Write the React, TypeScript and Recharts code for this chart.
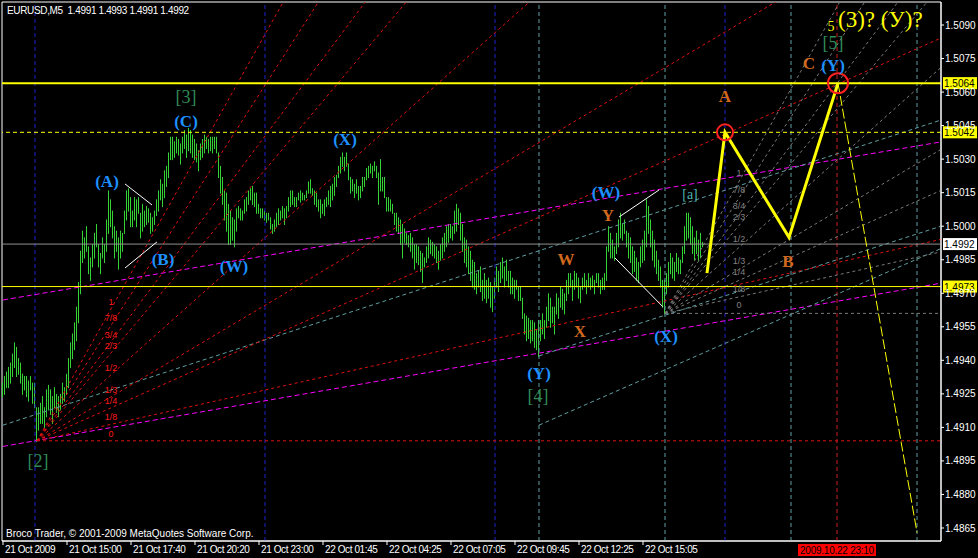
import React from 'react'
import {
  ComposedChart, Bar, Line, Scatter, XAxis, YAxis,
  ReferenceLine, ReferenceDot, ReferenceArea,
} from 'recharts'

// EURUSD M5 bars, quotes kept as their last four digits (4930 -> 1.4930)
const HIGH_PIPS = [
  4930, 4933, 4935, 4937, 4939, 4943, 4948, 4946, 4941, 4939, 4934, 4933, 4933, 4931, 4933, 4930, 4930, 4919,
  4919, 4921, 4924, 4919, 4927, 4929, 4927, 4924, 4928, 4925, 4924, 4925, 4930, 4928,
  4934, 4941, 4948, 4952, 4957, 4964, 4975, 4989,
  4998, 4995, 5000, 4991, 4986, 4992, 4997, 5001, 4992, 4988, 4995, 4992, 5003, 5016,
  5012, 5007, 5000, 4998, 4995, 4998, 4997, 5007, 5016,
  5017, 5013, 5007, 5013, 5012, 5013, 5006, 5010, 5007, 5009, 5008, 5006, 5004, 5007, 5012,
  5016, 5021, 5019, 5025, 5027, 5033, 5040,
  5040, 5038, 5040, 5039, 5037, 5040, 5043, 5041, 5044, 5043, 5041, 5039, 5037, 5034, 5037, 5039, 5041, 5040, 5039, 5040, 5040, 5040, 5040, 5033,
  5027, 5022, 5016, 5015, 5010, 5007, 5004, 5003, 5008,
  5009, 5008, 5007, 5012, 5013, 5016, 5017, 5018, 5015, 5015, 5010,
  5008, 5008, 5007, 5006, 5006, 5004, 5001, 5003, 5006, 5008, 5007, 5009,
  5008, 5009, 5013, 5016, 5016, 5013, 5013, 5015, 5016, 5015, 5014, 5016, 5020, 5021, 5017,
  5016, 5015, 5012, 5012, 5010, 5012, 5013, 5016, 5018, 5019, 5022, 5023, 5027,
  5031, 5033, 5031, 5033, 5028, 5022, 5021, 5019, 5021, 5018, 5018,
  5022, 5022, 5026, 5027, 5028, 5027, 5029, 5027, 5024, 5030,
  5022, 5022, 5013, 5013, 5012, 5010, 5006, 5006,
  5004, 5003, 5001, 4999, 4997, 4996, 4997, 4995, 4992, 4992,
  4991, 4989, 4988, 4986, 4991, 4995, 4994,
  4993, 4992, 4991, 4989, 4992, 4995, 4997, 5000, 5001, 5001, 5000, 5007, 5010, 5008, 5006, 5001, 4995, 4994,
  4991, 4989, 4985, 4984, 4979, 4980, 4982, 4976, 4979, 4976, 4977, 4975, 4973,
  4977, 4982, 4980, 4984, 4986, 4982, 4985, 4980, 4980, 4977, 4976, 4976, 4973, 4973, 4968,
  4961, 4960, 4959, 4958, 4958, 4957, 4954, 4958, 4958, 4961, 4958,
  4964, 4970, 4968, 4964, 4964, 4970, 4968, 4973, 4972, 4970, 4976, 4979,
  4979, 4976, 4980, 4979, 4977, 4973, 4977, 4979, 4976, 4979, 4977, 4978, 4976, 4979, 4979, 4976, 4977, 4979, 4991,
  5000, 4997, 4994, 4991, 4997, 5003, 5006, 5001, 5003, 4998, 4997, 4995, 4991,
  4989, 4986, 4984, 4991, 4994, 4998, 5012, 5009, 5003, 4998,
  4994, 4989, 4985, 4982, 4976, 4976, 4979,
  4984, 4988, 4986, 4984, 4988, 4986, 4985, 4991, 5000, 5006,
  5006, 5004, 5000, 4995, 4998, 4994, 4997, 4993,
]
const LOW_PIPS = [
  4924, 4925, 4928, 4928, 4930, 4933, 4937, 4933, 4934, 4930, 4925, 4927, 4924, 4922, 4927, 4921, 4919, 4904,
  4909, 4912, 4912, 4910, 4915, 4918, 4916, 4912, 4919, 4917, 4915, 4918, 4921, 4922,
  4925, 4928, 4937, 4941, 4945, 4949, 4957, 4970,
  4984, 4986, 4989, 4979, 4976, 4982, 4986, 4991, 4982, 4979, 4986, 4984, 4989, 4997,
  5000, 4995, 4986, 4989, 4981, 4986, 4989, 4997, 5003,
  5007, 5000, 5000, 5003, 5000, 5006, 4995, 4998, 5000, 5001, 5002, 4997, 4998, 5001, 5005,
  5007, 5012, 5009, 5013, 5018, 5022, 5030,
  5030, 5031, 5033, 5032, 5028, 5033, 5035, 5031, 5034, 5033, 5031, 5030, 5029, 5025, 5030, 5031, 5033, 5035, 5033, 5034, 5033, 5035, 5033, 5022,
  5015, 5010, 5003, 4998, 4992, 4992, 4994, 4991, 4998,
  5004, 5003, 5003, 5006, 5007, 5010, 5012, 5010, 5009, 5006, 5006,
  5004, 5004, 5003, 5002, 5003, 4999, 4997, 4998, 5000, 5001, 5003, 5004,
  5001, 5004, 5007, 5009, 5010, 5009, 5009, 5012, 5011, 5012, 5012, 5013, 5015, 5015, 5014,
  5010, 5009, 5007, 5004, 5006, 5005, 5009, 5010, 5009, 5012, 5014, 5018, 5022,
  5024, 5027, 5025, 5027, 5021, 5015, 5016, 5013, 5015, 5012, 5013,
  5016, 5018, 5021, 5022, 5024, 5022, 5025, 5022, 5010, 5016,
  5016, 5013, 5007, 5007, 5007, 5006, 5001, 4998,
  4997, 4992, 4986, 4993, 4992, 4991, 4989, 4986, 4981, 4984,
  4983, 4980, 4975, 4982, 4984, 4986, 4988,
  4987, 4986, 4984, 4981, 4985, 4986, 4989, 4991, 4993, 4995, 4994, 4997, 4998, 5001, 4994, 4989, 4984, 4982,
  4979, 4976, 4973, 4972, 4970, 4973, 4971, 4967, 4968, 4966, 4968, 4964, 4962,
  4968, 4973, 4971, 4975, 4977, 4973, 4976, 4973, 4970, 4970, 4968, 4972, 4967, 4967, 4959,
  4952, 4949, 4950, 4948, 4949, 4946, 4945, 4942, 4949, 4952, 4950,
  4955, 4958, 4955, 4957, 4952, 4961, 4959, 4964, 4963, 4961, 4967, 4970,
  4973, 4967, 4972, 4973, 4968, 4966, 4972, 4973, 4970, 4973, 4972, 4973, 4970, 4975, 4973, 4970, 4972, 4972, 4976,
  4989, 4986, 4986, 4985, 4988, 4991, 4995, 4994, 4997, 4991, 4986, 4984, 4979,
  4980, 4976, 4975, 4982, 4984, 4985, 4991, 4997, 4991, 4985,
  4982, 4979, 4976, 4973, 4964, 4961, 4970,
  4973, 4979, 4977, 4976, 4980, 4979, 4979, 4984, 4988, 4994,
  4995, 4992, 4988, 4985, 4988, 4985, 4986, 4991,
]

const PRICE_TICKS = [
  1.4865, 1.488, 1.4895, 1.491, 1.4925, 1.494, 1.4955, 1.497,
  1.4985, 1.5, 1.5015, 1.503, 1.5045, 1.506, 1.5075, 1.509,
]
const TIME_TICKS = [0, 32, 64, 96, 128, 160, 192, 224, 256, 288, 320]
const TIME_LABELS = [
  '21 Oct 2009', '21 Oct 15:00', '21 Oct 17:40', '21 Oct 20:20', '21 Oct 23:00',
  '22 Oct 01:45', '22 Oct 04:25', '22 Oct 07:05', '22 Oct 09:45', '22 Oct 12:25', '22 Oct 15:05',
]

// fans: origin pivot and the point that fixes the "1" ray
const FAN_RATIOS = [0, 1 / 8, 1 / 4, 1 / 3, 1 / 2, 2 / 3, 3 / 4, 7 / 8, 1]
const FAN_NAMES = ['0', '1/8', '1/4', '1/3', '1/2', '2/3', '3/4', '7/8', '1']
const RED_FAN = { from: { t: 17, p: 1.4904 }, to: { t: 54, p: 1.4963 } }
const GRAY_FAN = { from: { t: 331, p: 1.4961 }, to: { t: 368, p: 1.502 } }

const TEAL_LINES = [
  [{ t: 0, p: 1.4911 }, { t: 469, p: 1.50475 }],
  [{ t: 268, p: 1.4911 }, { t: 469, p: 1.499 }],
  [{ t: 268, p: 1.4942 }, { t: 469, p: 1.5 }],
]
const MAGENTA_LINES = [
  [{ t: 0, p: 1.4967 }, { t: 469, p: 1.50377 }],
  [{ t: 0, p: 1.49015 }, { t: 469, p: 1.49745 }],
]
const WHITE_LINES = [
  [{ t: 61, p: 1.50189 }, { t: 74.5, p: 1.50095 }],
  [{ t: 61, p: 1.49813 }, { t: 77, p: 1.4993 }],
  [{ t: 308, p: 1.50041 }, { t: 328, p: 1.50162 }],
  [{ t: 306, p: 1.49858 }, { t: 330, p: 1.49639 }],
]

// projected A-B-C path and the drop after C
const PROJECTION = [
  { t: 352, p: 1.4979 }, { t: 361, p: 1.5042 }, { t: 393, p: 1.4995 }, { t: 417.5, p: 1.5064 },
]
const PROJECTION_DROP = [{ t: 417.5, p: 1.5064 }, { t: 457, p: 1.4863 }]
const TARGETS = [{ t: 361, p: 1.5042 }, { t: 417.5, p: 1.5064 }]

const BLUE_T = [16, 131, 246, 361]
const TEAL_T = [268, 331, 394, 457]
const RED_T = 417
const RED_T_LABEL = '2009.10.22 23:10'

const BLUE_WAVES = [
  { t: 52, p: 1.502, text: '(A)' },
  { t: 80, p: 1.4985, text: '(B)' },
  { t: 91.5, p: 1.5047, text: '(C)' },
  { t: 115.5, p: 1.4982, text: '(W)' },
  { t: 171, p: 1.5039, text: '(X)' },
  { t: 268, p: 1.4934, text: '(Y)' },
  { t: 301.5, p: 1.5015, text: '(W)' },
  { t: 331.5, p: 1.49505, text: '(X)' },
  { t: 415, p: 1.5072, text: '(Y)' },
]
const GREEN_WAVES = [
  { t: 17.5, p: 1.4895, text: '[2]' },
  { t: 91.5, p: 1.5058, text: '[3]' },
  { t: 267.5, p: 1.4924, text: '[4]' },
  { t: 415, p: 1.5082, text: '[5]' },
]
const ORANGE_WAVES = [
  { t: 281.5, p: 1.4985, text: 'W' },
  { t: 288.5, p: 1.4953, text: 'X' },
  { t: 302.5, p: 1.5005, text: 'Y' },
  { t: 361, p: 1.5058, text: 'A' },
  { t: 392.5, p: 1.4984, text: 'B' },
  { t: 403, p: 1.50726, text: 'C' },
]
const MINOR_WAVES = [{ t: 343.5, p: 1.5014, text: '[a]' }]
const DEGREE_MARK = [{ t: 414, p: 1.50895, text: '5' }]
const HEADLINE = [{ t: 417.5, p: 1.50925, text: '(3)? (У)?' }]

const W = 978
const H = 558
const T_MIN = -0.5
const T_MAX = 469
const P_MIN = 1.485918
const P_MAX = 1.510029

const SERIF = '"Liberation Serif", "Times New Roman", serif'
const SANS = '"Liberation Sans", Arial, sans-serif'
const GREEN = '#34d234'

const toPrice = (pips: number) => 1 + pips / 10000
const bars = HIGH_PIPS.map((h, i) => ({ t: i, hl: [toPrice(LOW_PIPS[i]), toPrice(h)] }))

function fanRays(fan: typeof RED_FAN) {
  const step = (fan.to.p - fan.from.p) / (fan.to.t - fan.from.t)
  return FAN_RATIOS.map((r) => [
    { x: fan.from.t, y: fan.from.p },
    { x: T_MAX, y: fan.from.p + r * step * (T_MAX - fan.from.t) },
  ])
}

function fanLabels(fan: typeof RED_FAN) {
  return FAN_RATIOS.map((r, i) => ({
    t: fan.to.t,
    p: fan.from.p + r * (fan.to.p - fan.from.p),
    text: FAN_NAMES[i],
  }))
}

function Stick(props: any) {
  const { x, y, width, height } = props
  if (x == null || y == null) return null
  const cx = Math.floor(x + width / 2) + 0.5
  const top = Math.min(y, y + height)
  const bottom = Math.max(y, y + height)
  return <line x1={cx} x2={cx} y1={top} y2={bottom + 1} stroke={GREEN} strokeWidth={1} />
}

const textShape = (style: any, dy = 0, anchor = 'middle') => (props: any) => (
  <text
    x={props.cx}
    y={props.cy + dy}
    textAnchor={anchor}
    dominantBaseline="central"
    {...style}
  >
    {props.payload.text}
  </text>
)

const priceTag = (value: number, bg: string) => (props: any) => {
  const vb = props.viewBox
  if (!vb) return null
  const left = vb.x + vb.width + 2
  return (
    <g>
      <rect x={left} y={vb.y - 6} width={34} height={12} fill={bg} />
      <text x={left + 1} y={vb.y + 4} fontSize={10} fontFamily={SANS} fill="#000">
        {value.toFixed(4)}
      </text>
    </g>
  )
}

const timeTag = (text: string) => (props: any) => {
  const vb = props.viewBox
  if (!vb) return null
  const cx = vb.x
  const top = vb.y + vb.height + 3
  return (
    <g>
      <rect x={cx - 39} y={top} width={78} height={12} fill="#ff0000" />
      <text x={cx} y={top + 10} textAnchor="middle" fontSize={10} fontFamily={SANS}
        letterSpacing={-0.25} fill="#000">
        {text}
      </text>
    </g>
  )
}

function TimeTick(props: any) {
  const { x, y, payload } = props
  const i = TIME_TICKS.indexOf(payload.value)
  return (
    <text x={x + 2} y={y + 8} fontSize={10} fontFamily={SANS} letterSpacing={-0.4} fill="#fff">
      {TIME_LABELS[i]}
    </text>
  )
}

export default function App() {
  const redRays = fanRays(RED_FAN)
  const grayRays = fanRays(GRAY_FAN)
  return (
    <div style={{ position: 'fixed', left: 0, top: 0, width: W, height: H, background: '#000', overflow: 'hidden' }}>
      <ComposedChart width={W} height={H} data={bars} margin={{ top: 2, right: 0, bottom: 0, left: 2 }}>
        <XAxis
          dataKey="t"
          type="number"
          domain={[T_MIN, T_MAX]}
          ticks={TIME_TICKS}
          interval={0}
          height={17}
          tickSize={4}
          tickMargin={0}
          axisLine={{ stroke: '#fff' }}
          tickLine={{ stroke: '#fff' }}
          tick={<TimeTick />}
        />
        <YAxis
          orientation="right"
          type="number"
          domain={[P_MIN, P_MAX]}
          ticks={PRICE_TICKS}
          interval={0}
          width={37}
          tickSize={3}
          tickMargin={1}
          axisLine={{ stroke: '#fff' }}
          tickLine={{ stroke: '#fff' }}
          tick={{ fill: '#fff', fontSize: 10, fontFamily: SANS }}
          tickFormatter={(v: number) => v.toFixed(4)}
        />

        <ReferenceArea x1={T_MIN} x2={T_MAX} y1={P_MIN} y2={P_MAX} fill="none" stroke="#fff" />

        {BLUE_T.map((t) => (
          <ReferenceLine key={`b${t}`} x={t} stroke="#2020c8" strokeDasharray="4 3" />
        ))}
        {TEAL_T.map((t) => (
          <ReferenceLine key={`c${t}`} x={t} stroke="#5f9ea0" strokeDasharray="4 3" />
        ))}
        <ReferenceLine x={RED_T} stroke="#d02020" strokeDasharray="4 3" label={timeTag(RED_T_LABEL)} />

        {MAGENTA_LINES.map((s, i) => (
          <ReferenceLine key={`m${i}`} segment={s.map((d) => ({ x: d.t, y: d.p }))}
            stroke="#ff00ff" strokeDasharray="5 3" ifOverflow="hidden" />
        ))}
        {TEAL_LINES.map((s, i) => (
          <ReferenceLine key={`tl${i}`} segment={s.map((d) => ({ x: d.t, y: d.p }))}
            stroke="#5f9ea0" strokeDasharray="4 3" ifOverflow="hidden" />
        ))}
        {redRays.map((s, i) => (
          <ReferenceLine key={`rf${i}`} segment={s} stroke="#e01010" strokeDasharray="3 3" ifOverflow="hidden" />
        ))}
        {grayRays.map((s, i) => (
          <ReferenceLine key={`gf${i}`} segment={s} stroke="#7a7a7a" strokeDasharray="3 3" ifOverflow="hidden" />
        ))}

        <ReferenceLine y={1.4992} stroke="#909090" label={priceTag(1.4992, '#ffffff')} />
        <ReferenceLine y={1.4973} stroke="#ffff00" label={priceTag(1.4973, '#ffff00')} />
        <ReferenceLine y={1.5042} stroke="#ffff00" strokeDasharray="4 3" label={priceTag(1.5042, '#ffff00')} />
        <ReferenceLine y={1.5064} stroke="#ffff00" strokeWidth={2} label={priceTag(1.5064, '#ffff00')} />

        <Bar dataKey="hl" barSize={1} shape={<Stick />} isAnimationActive={false} />

        {WHITE_LINES.map((s, i) => (
          <ReferenceLine key={`w${i}`} segment={s.map((d) => ({ x: d.t, y: d.p }))} stroke="#ffffff" />
        ))}

        <Line data={PROJECTION} dataKey="p" stroke="#ffff00" strokeWidth={3} dot={false} isAnimationActive={false} />
        <Line data={PROJECTION_DROP} dataKey="p" stroke="#ffff00" strokeWidth={1} strokeDasharray="10 3"
          dot={false} isAnimationActive={false} />
        <ReferenceDot x={TARGETS[0].t} y={TARGETS[0].p} r={8} fill="none" stroke="#ff2020" strokeWidth={2} />
        <ReferenceDot x={TARGETS[1].t} y={TARGETS[1].p} r={10} fill="none" stroke="#ff2020" strokeWidth={2} />

        <Scatter data={fanLabels(RED_FAN)} dataKey="p" isAnimationActive={false}
          shape={textShape({ fill: '#ff1a1a', fontSize: 9, fontFamily: SANS }, -7)} />
        <Scatter data={fanLabels(GRAY_FAN)} dataKey="p" isAnimationActive={false}
          shape={textShape({ fill: '#808080', fontSize: 9, fontFamily: SANS }, -8)} />
        <Scatter data={BLUE_WAVES} dataKey="p" isAnimationActive={false}
          shape={textShape({ fill: '#1e90ff', fontSize: 17, fontWeight: 'bold', fontFamily: SERIF })} />
        <Scatter data={GREEN_WAVES} dataKey="p" isAnimationActive={false}
          shape={textShape({ fill: '#2e8b57', fontSize: 18, fontFamily: SERIF })} />
        <Scatter data={ORANGE_WAVES} dataKey="p" isAnimationActive={false}
          shape={textShape({ fill: '#d2691e', fontSize: 17, fontWeight: 'bold', fontFamily: SERIF })} />
        <Scatter data={MINOR_WAVES} dataKey="p" isAnimationActive={false}
          shape={textShape({ fill: '#4fb4b4', fontSize: 14, fontFamily: SERIF })} />
        <Scatter data={DEGREE_MARK} dataKey="p" isAnimationActive={false}
          shape={textShape({ fill: '#ffff00', fontSize: 14, fontFamily: SERIF })} />
        <Scatter data={HEADLINE} dataKey="p" isAnimationActive={false}
          shape={textShape({ fill: '#ffff00', fontSize: 23, fontFamily: SERIF }, 0, 'start')} />
      </ComposedChart>

      <div style={{
        position: 'absolute', left: 7, top: 5, color: '#fff', fontFamily: SANS, fontSize: 10,
        lineHeight: '12px', letterSpacing: -0.35, whiteSpace: 'pre',
      }}>
        {'EURUSD,M5  1.4991 1.4993 1.4991 1.4992'}
      </div>
      <div style={{
        position: 'absolute', left: 6, top: 528, color: '#fff', fontFamily: SANS, fontSize: 10,
        lineHeight: '12px', whiteSpace: 'pre',
      }}>
        Broco Trader, © 2001-2009 MetaQuotes Software Corp.
      </div>
    </div>
  )
}
